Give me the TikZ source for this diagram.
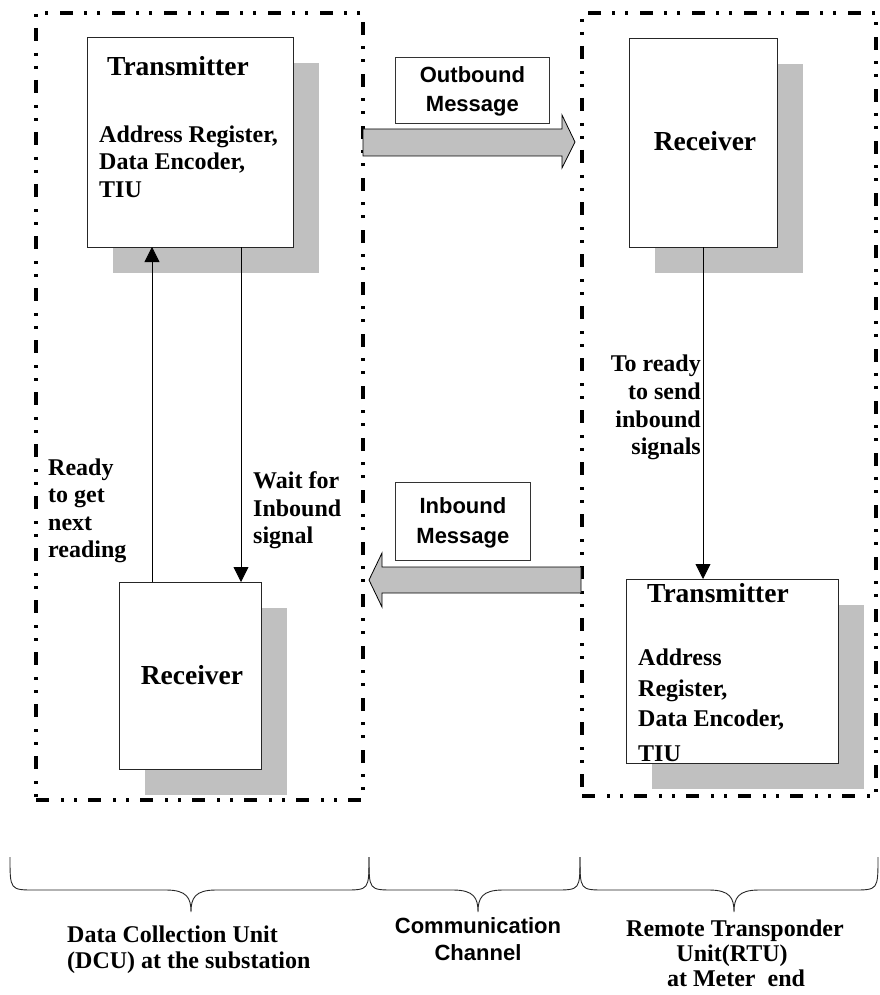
\documentclass[tikz,border=0pt]{standalone}
\usepackage{fontspec}
\setmainfont{Liberation Serif}
\newfontfamily\sansb{Liberation Sans}
\usetikzlibrary{arrows.meta,backgrounds,calc}
\definecolor{shgray}{RGB}{192,192,192}
\newcommand\wordbrace[3]{\draw[brc] (#1,857) .. controls (#1,890) and (#1,890) .. ({#1+25},890) -- ({#2-25},890) .. controls ({#2-4},890) and (#2,898) .. (#2,912) .. controls (#2,898) and ({#2+4},890) .. ({#2+25},890) -- ({#3-25},890) .. controls (#3,890) and (#3,890) .. (#3,857);}
\tikzset{
  box/.style={draw=black!85, line width=0.8pt, fill=white, inner sep=0pt, outer sep=0pt, anchor=north west},
  ttl/.style={font=\fontsize{27.5}{30}\selectfont\bfseries, inner sep=0pt},
  txt/.style={font=\fontsize{24}{27}\selectfont\bfseries, inner sep=0pt},
  sbox/.style={draw=black!80, line width=0.8pt, fill=white, font=\sansb\fontsize{22}{29}\selectfont\bfseries, align=center, inner sep=0pt, anchor=north west},
  stxt/.style={font=\sansb\fontsize{22}{29}\selectfont\bfseries, inner sep=0pt},
  conn/.style={line width=0.8pt, -{Triangle[length=15pt,width=15pt]}},
  blk/.style={draw=black, line width=0.8pt, fill=shgray},
  frame/.style={draw=black, line width=3.5pt, dash pattern=on 13pt off 12pt on 3pt off 10pt on 3pt off 11pt, inner sep=0pt, outer sep=0pt, anchor=north west},
  brc/.style={line width=0.9pt, draw=black!85},
}
\begin{document}
\begin{tikzpicture}[x=1pt,y=-1pt]
\useasboundingbox (0,0) rectangle (879,995);
% boxes
\node[box, minimum width=206pt, minimum height=210pt] (tx1) at (87,37) {};
\node[box, minimum width=142pt, minimum height=187pt] (rx1) at (119,582) {};
\node[box, minimum width=148pt, minimum height=209pt] (rx2) at (629,38) {};
\node[box, minimum width=212pt, minimum height=184pt] (tx2) at (626,579) {};
% shadows
\begin{scope}[on background layer]
\foreach \b in {tx1,rx1,rx2,tx2}{
  \fill[shgray] ($(\b.south west)+(26,26)$) rectangle ($(\b.north east)+(26,26)$);
}
\end{scope}
% frames
\node[frame, minimum width=327pt, minimum height=787pt] (dcu) at (36,13) {};
\node[frame, minimum width=294pt, minimum height=783pt] (rtu) at (582,13) {};
% texts in boxes
\node[ttl, anchor=base west] (tx1t) at (107,76) {Transmitter};
\node[txt, anchor=base west] (tx1a) at (99,143) {Address Register,};
\node[txt, anchor=base west] (tx1b) at (99,170) {Data Encoder,};
\node[txt, anchor=base west] (tx1c) at (99,197) {TIU};
\node[ttl, anchor=base] (rx1t) at (192,684) {Receiver};
\node[ttl, anchor=base] (rx2t) at (705,151) {Receiver};
\node[ttl, anchor=base west] (tx2t) at (647,602) {Transmitter};
\node[txt, anchor=base west] (tx2a) at (638,665) {Address};
\node[txt, anchor=base west] (tx2b) at (638,696) {Register,};
\node[txt, anchor=base west] (tx2c) at (638,726) {Data Encoder,};
\node[txt, anchor=base west] (tx2d) at (638,761) {TIU};
% connectors
\coordinate (xa) at (152,0);
\coordinate (xb) at (241,0);
\coordinate (xc) at (703,0);
\draw[conn] (rx1.north -| xa) -- (tx1.south -| xa);
\draw[conn] (tx1.south -| xb) -- (rx1.north -| xb);
\draw[conn] (rx2.south -| xc) -- (tx2.north -| xc);
% connector labels
\node[txt, anchor=base west] (l1) at (48,475) {Ready};
\node[txt, anchor=base west] (l2) at (48,502) {to get};
\node[txt, anchor=base west] (l3) at (48,530) {next};
\node[txt, anchor=base west] (l4) at (48,557) {reading};
\node[txt, anchor=base west] (w1) at (253,488) {Wait for};
\node[txt, anchor=base west] (w2) at (253,516) {Inbound};
\node[txt, anchor=base west] (w3) at (253,543) {signal};
\node[txt, anchor=base east] (r1) at (701,371) {To ready};
\node[txt, anchor=base east] (r2) at (701,399) {to send};
\node[txt, anchor=base east] (r3) at (701,427) {inbound};
\node[txt, anchor=base east] (r4) at (701,454) {signals};
% block arrows
\draw[blk] (363,129) -- (562,129) -- (562,115) -- (575,142) -- (562,168) -- (562,156) -- (363,156) -- cycle;
\draw[blk] (581,567) -- (382,567) -- (382,553) -- (369,580) -- (382,607) -- (382,593) -- (581,593) -- cycle;
\node[sbox, minimum width=154pt, minimum height=66pt] (ob) at (395,57) {};
\node[stxt, anchor=base] (ob1) at (ob.center |- 0,83) {Outbound};
\node[stxt, anchor=base] (ob2) at (ob.center |- 0,112) {Message};
\node[sbox, minimum width=135pt, minimum height=78pt] (ib) at (395,482) {};
\node[stxt, anchor=base] (ib1) at (ib.center |- 0,513) {Inbound};
\node[stxt, anchor=base] (ib2) at (ib.center |- 0,543) {Message};
% braces
\wordbrace{10}{191}{369}
\wordbrace{369}{478}{580}
\wordbrace{580}{734}{878}
% bottom labels
\node[txt, anchor=base west] (d1) at (67,942) {Data Collection Unit};
\node[txt, anchor=base west] (d2) at (67,968) {(DCU) at the substation};
\node[stxt, anchor=base] (c1) at (478,933) {Communication};
\node[stxt, anchor=base] (c2) at (478,960) {Channel};
\node[txt, anchor=base] (m1) at (735,936) {Remote Transponder};
\node[txt, anchor=base] (m2) at (732,961) {Unit(RTU)};
\node[txt, anchor=base] (m3) at (736,986) {at Meter\ \ end};
\end{tikzpicture}
\end{document}
